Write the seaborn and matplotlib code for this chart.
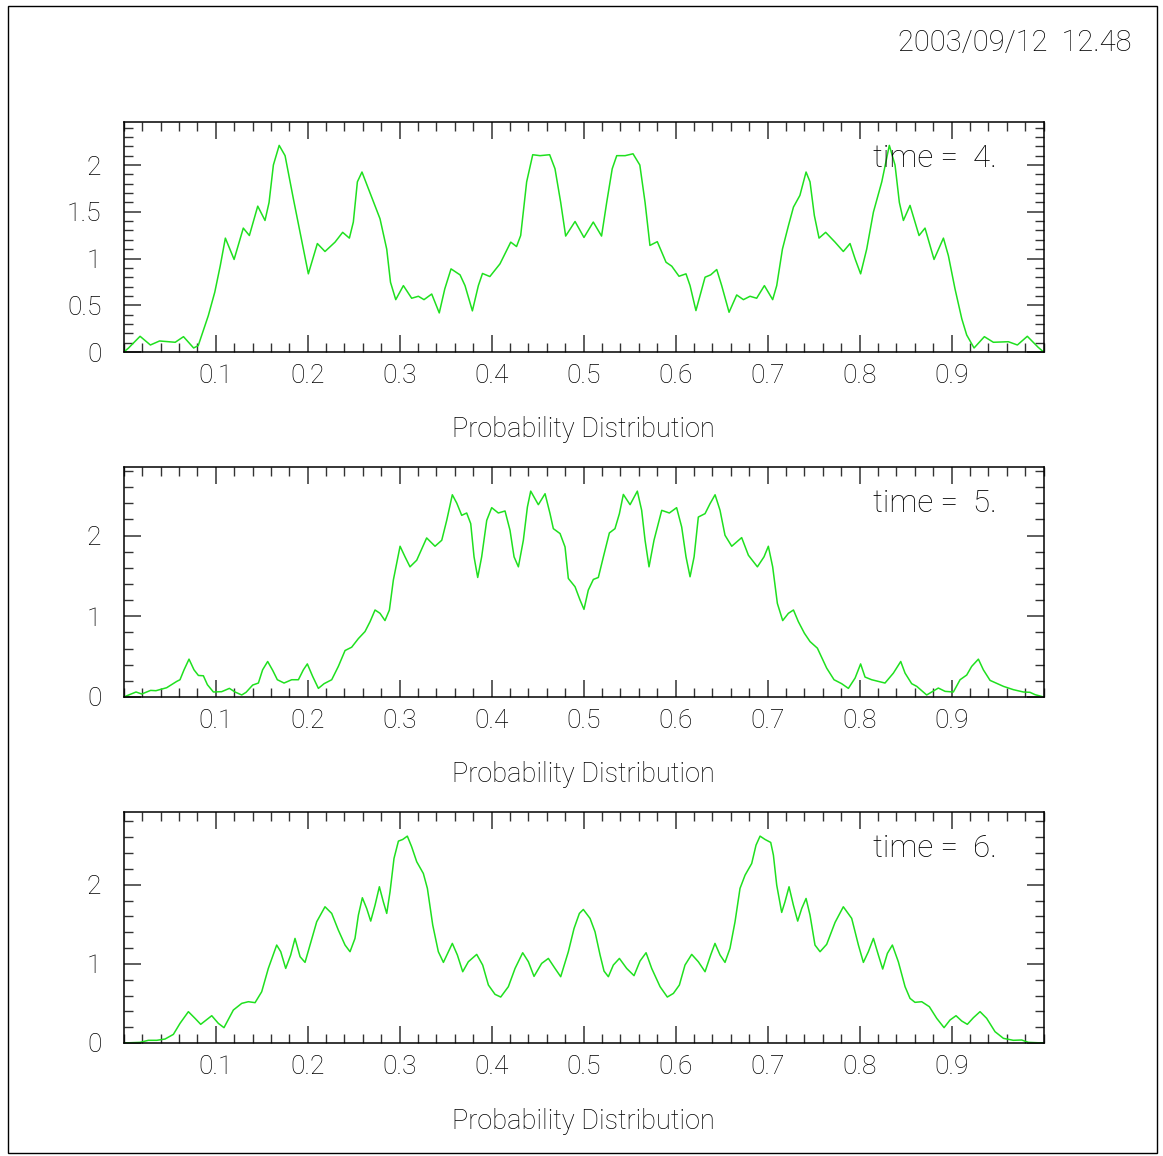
import matplotlib
matplotlib.use("Agg")
import matplotlib.pyplot as plt
import seaborn as sns
import pandas as pd
from matplotlib.ticker import FixedLocator, MultipleLocator
from matplotlib.patches import Rectangle

# ---------------- data ----------------
x_t4 = [0.000, 0.005, 0.0178, 0.029, 0.039, 0.056, 0.065, 0.076, 0.081, 0.092,
        0.099, 0.105, 0.1105, 0.120, 0.130, 0.1366, 0.1457, 0.1536, 0.158, 0.1627,
        0.169, 0.1754, 0.1844, 0.1917, 0.2007, 0.2105, 0.2188, 0.2297, 0.238, 0.2453,
        0.2496, 0.254, 0.259, 0.266, 0.273, 0.2786, 0.2859, 0.290, 0.2957, 0.304,
        0.313, 0.3203, 0.3264, 0.3348, 0.343, 0.349, 0.3558, 0.3656, 0.371, 0.379,
        0.3855, 0.390, 0.398, 0.409, 0.4207, 0.427, 0.4315, 0.438, 0.4446, 0.4525,
        0.463, 0.4688, 0.475, 0.4804, 0.4906, 0.5003, 0.5104, 0.5194, 0.525, 0.531,
        0.5359, 0.545, 0.5536, 0.561, 0.5667, 0.572, 0.580, 0.5895, 0.5957, 0.6036,
        0.6112, 0.6156, 0.622, 0.6319, 0.638, 0.6446, 0.650, 0.658, 0.6663, 0.6736,
        0.6808, 0.688, 0.6964, 0.7054, 0.7098, 0.716, 0.7225, 0.728, 0.735, 0.7417,
        0.746, 0.7507, 0.7558, 0.763, 0.7732, 0.7822, 0.7895, 0.795, 0.801, 0.8076,
        0.8149, 0.824, 0.8322, 0.8384, 0.8431, 0.8475, 0.8547, 0.8645, 0.871, 0.8808,
        0.891, 0.8964, 0.9036, 0.911, 0.9163, 0.9243, 0.9355, 0.9453, 0.9616, 0.9714,
        0.9822, 0.994, 1.0]
y_t4 = [0.00, 0.04, 0.168, 0.075, 0.118, 0.104, 0.164, 0.043, 0.068, 0.39,
        0.64, 0.925, 1.218, 0.99, 1.325, 1.246, 1.56, 1.407, 1.60, 2.0,
        2.21, 2.10, 1.64, 1.28, 0.836, 1.16, 1.075, 1.175, 1.28, 1.218,
        1.39, 1.82, 1.925, 1.746, 1.568, 1.425, 1.10, 0.746, 0.56, 0.71,
        0.575, 0.596, 0.56, 0.62, 0.418, 0.675, 0.889, 0.825, 0.71, 0.44,
        0.71, 0.84, 0.807, 0.943, 1.175, 1.128, 1.246, 1.82, 2.11, 2.10,
        2.11, 1.96, 1.60, 1.24, 1.396, 1.225, 1.39, 1.24, 1.60, 1.96,
        2.10, 2.10, 2.12, 2.0, 1.60, 1.14, 1.18, 0.96, 0.918, 0.81,
        0.836, 0.71, 0.443, 0.8, 0.825, 0.882, 0.71, 0.425, 0.61, 0.56,
        0.596, 0.575, 0.71, 0.56, 0.71, 1.10, 1.35, 1.55, 1.675, 1.925,
        1.82, 1.46, 1.218, 1.28, 1.175, 1.075, 1.16, 0.996, 0.836, 1.10,
        1.496, 1.82, 2.21, 2.0, 1.60, 1.407, 1.568, 1.246, 1.325, 0.99,
        1.218, 1.03, 0.675, 0.354, 0.182, 0.043, 0.164, 0.104, 0.11, 0.075,
        0.168, 0.05, 0.0]

x_t5 = [0.0, 0.0134, 0.0196, 0.0293, 0.035, 0.0467, 0.0576, 0.0612, 0.0656, 0.071,
        0.0764, 0.0812, 0.0866, 0.091, 0.0975, 0.1065, 0.1149, 0.121, 0.1283, 0.133,
        0.1402, 0.1464, 0.151, 0.1565, 0.162, 0.167, 0.1743, 0.1826, 0.1899, 0.1953,
        0.1996, 0.2054, 0.2116, 0.2178, 0.2261, 0.2333, 0.2406, 0.2478, 0.2551, 0.2623,
        0.2678, 0.2732, 0.2786, 0.284, 0.2888, 0.2931, 0.3004, 0.3058, 0.3112, 0.3185,
        0.3293, 0.3384, 0.3457, 0.3511, 0.3572, 0.362, 0.3674, 0.3728, 0.3772, 0.3808,
        0.3848, 0.3891, 0.3946, 0.40, 0.4072, 0.4145, 0.4199, 0.4243, 0.429, 0.4344,
        0.4388, 0.4424, 0.4507, 0.458, 0.4634, 0.467, 0.4743, 0.4797, 0.4833, 0.4906,
        0.496, 0.5003, 0.505, 0.5105, 0.5159, 0.5214, 0.5279, 0.534, 0.5388, 0.5431,
        0.5504, 0.5583, 0.563, 0.5667, 0.571, 0.5764, 0.5848, 0.5931, 0.601, 0.6065,
        0.6112, 0.6156, 0.62, 0.6246, 0.6319, 0.6373, 0.6428, 0.6482, 0.6536, 0.6609,
        0.6663, 0.6717, 0.679, 0.6888, 0.696, 0.7007, 0.7054, 0.7105, 0.7163, 0.7225,
        0.728, 0.7333, 0.7399, 0.746, 0.754, 0.7641, 0.7721, 0.7804, 0.7877, 0.795,
        0.801, 0.8058, 0.813, 0.8275, 0.8366, 0.8446, 0.8493, 0.8565, 0.862, 0.8728,
        0.8855, 0.8928, 0.9018, 0.9091, 0.9163, 0.9217, 0.929, 0.9344, 0.9417, 0.9562,
        0.967, 0.9779, 0.9851, 0.9906, 1.0]
y_t5 = [0.0, 0.062, 0.037, 0.082, 0.078, 0.115, 0.193, 0.214, 0.337, 0.469,
        0.337, 0.267, 0.263, 0.152, 0.062, 0.066, 0.107, 0.062, 0.025, 0.058,
        0.148, 0.173, 0.337, 0.44, 0.329, 0.214, 0.173, 0.214, 0.214, 0.337,
        0.41, 0.255, 0.107, 0.165, 0.214, 0.379, 0.576, 0.617, 0.724, 0.811,
        0.934, 1.078, 1.037, 0.947, 1.078, 1.449, 1.868, 1.737, 1.613, 1.695,
        1.971, 1.868, 1.942, 2.189, 2.506, 2.403, 2.251, 2.28, 2.148, 1.737,
        1.481, 1.737, 2.189, 2.346, 2.28, 2.305, 2.066, 1.737, 1.613, 1.942,
        2.354, 2.551, 2.383, 2.519, 2.272, 2.086, 2.025, 1.86, 1.469, 1.366,
        1.202, 1.086, 1.325, 1.457, 1.481, 1.737, 2.033, 2.086, 2.272, 2.51,
        2.383, 2.551, 2.313, 1.942, 1.613, 1.942, 2.313, 2.28, 2.346, 2.107,
        1.737, 1.49, 1.737, 2.23, 2.272, 2.395, 2.506, 2.313, 2.004, 1.868,
        1.922, 1.975, 1.757, 1.613, 1.737, 1.868, 1.613, 1.16, 0.947, 1.037,
        1.078, 0.934, 0.79, 0.687, 0.605, 0.358, 0.214, 0.165, 0.107, 0.235,
        0.41, 0.247, 0.214, 0.173, 0.296, 0.44, 0.296, 0.165, 0.132, 0.025,
        0.111, 0.07, 0.062, 0.214, 0.272, 0.379, 0.469, 0.337, 0.206, 0.132,
        0.091, 0.062, 0.058, 0.029, 0.0]

x_t6 = [0.0, 0.0178, 0.0268, 0.0359, 0.0449, 0.054, 0.0612, 0.0703, 0.0775, 0.0837,
        0.0957, 0.1029, 0.109, 0.1192, 0.1283, 0.1355, 0.1428, 0.15, 0.1572, 0.1663,
        0.1707, 0.1761, 0.1815, 0.1862, 0.1917, 0.1971, 0.2025, 0.2098, 0.2188, 0.2261,
        0.2333, 0.2406, 0.246, 0.2514, 0.2551, 0.2594, 0.2641, 0.2685, 0.2732, 0.2779,
        0.2822, 0.2859, 0.2895, 0.2938, 0.2986, 0.3033, 0.3083, 0.313, 0.3185, 0.3257,
        0.3301, 0.3359, 0.342, 0.3475, 0.3529, 0.3572, 0.3627, 0.3685, 0.3746, 0.3837,
        0.3902, 0.3964, 0.4036, 0.4098, 0.4181, 0.4254, 0.4337, 0.4399, 0.446, 0.4543,
        0.4616, 0.4688, 0.475, 0.4833, 0.4895, 0.4953, 0.4996, 0.5069, 0.5123, 0.5178,
        0.5221, 0.5268, 0.5322, 0.5388, 0.5467, 0.5547, 0.5612, 0.5678, 0.5739, 0.583,
        0.5909, 0.5975, 0.604, 0.6101, 0.6174, 0.6246, 0.6319, 0.638, 0.6427, 0.6482,
        0.6536, 0.659, 0.6645, 0.6699, 0.6754, 0.6826, 0.6873, 0.6917, 0.6971, 0.7033,
        0.7062, 0.7098, 0.7152, 0.7188, 0.7232, 0.7279, 0.7326, 0.737, 0.7417, 0.746,
        0.7514, 0.7569, 0.7641, 0.7732, 0.7822, 0.7913, 0.7986, 0.804, 0.8094, 0.8149,
        0.8203, 0.825, 0.8301, 0.8355, 0.842, 0.8493, 0.8547, 0.8601, 0.8674, 0.8757,
        0.8837, 0.8917, 0.8982, 0.9047, 0.9109, 0.917, 0.9236, 0.9308, 0.938, 0.9471,
        0.9562, 0.967, 0.9761, 0.9833, 1.0]
y_t6 = [0.0, 0.008, 0.034, 0.034, 0.05, 0.109, 0.248, 0.396, 0.312, 0.236,
        0.345, 0.248, 0.194, 0.417, 0.501, 0.522, 0.51, 0.648, 0.943, 1.238,
        1.154, 0.943, 1.112, 1.322, 1.091, 1.019, 1.238, 1.533, 1.722, 1.638,
        1.427, 1.238, 1.154, 1.322, 1.617, 1.836, 1.701, 1.541, 1.743, 1.975,
        1.785, 1.638, 1.912, 2.333, 2.552, 2.573, 2.615, 2.48, 2.291, 2.143,
        1.954, 1.491, 1.154, 1.019, 1.154, 1.259, 1.112, 0.901, 1.027, 1.12,
        0.985, 0.733, 0.615, 0.581, 0.712, 0.943, 1.141, 1.027, 0.842, 1.006,
        1.069, 0.943, 0.838, 1.154, 1.448, 1.638, 1.688, 1.575, 1.406, 1.112,
        0.909, 0.838, 0.985, 1.069, 0.943, 0.851, 1.036, 1.141, 0.943, 0.712,
        0.581, 0.627, 0.733, 0.985, 1.12, 1.027, 0.901, 1.112, 1.259, 1.112,
        1.019, 1.196, 1.533, 1.954, 2.122, 2.269, 2.501, 2.615, 2.573, 2.535,
        2.375, 1.996, 1.651, 1.785, 1.975, 1.743, 1.541, 1.701, 1.827, 1.617,
        1.238, 1.154, 1.247, 1.524, 1.722, 1.575, 1.238, 1.019, 1.154, 1.322,
        1.112, 0.935, 1.133, 1.238, 1.027, 0.712, 0.564, 0.514, 0.522, 0.459,
        0.312, 0.194, 0.291, 0.345, 0.278, 0.236, 0.32, 0.396, 0.312, 0.143,
        0.059, 0.034, 0.038, 0.008, 0.0]

panel_titles = ["time =  4.", "time =  5.", "time =  6."]
xlabel_text = "Probability Distribution"
date_text = "2003/09/12  12.48"
x_major = [0.1, 0.2, 0.3, 0.4, 0.5, 0.6, 0.7, 0.8, 0.9]
x_major_labels = ["0.1", "0.2", "0.3", "0.4", "0.5", "0.6", "0.7", "0.8", "0.9"]
y_major_t4 = [0, 0.5, 1, 1.5, 2]
y_major_t4_labels = ["0", "0.5", "1", "1.5", "2"]
y_major_t56 = [0, 1, 2]
y_major_t56_labels = ["0", "1", "2"]

# ---------------- styling ----------------
sns.set_theme(style="white")
plt.rcParams["font.family"] = ["Roboto", "DejaVu Sans"]
plt.rcParams["font.weight"] = "light"

W, H = 1163, 1156
fig = plt.figure(figsize=(W / 100, H / 100), dpi=100)
fig.patch.set_facecolor("white")

# outer frame
fig.add_artist(Rectangle((8 / W, 1 - 1153 / H), (1157 - 8) / W, (1153 - 6) / H,
                         transform=fig.transFigure, fill=False,
                         edgecolor="black", linewidth=1.0))

green = "#1fe01f"
txt = "#000000"
ax_left = 123.7
ax_right = 1043.7
panels = [
    (x_t4, y_t4, 122, 352, 2.46, y_major_t4, y_major_t4_labels, 0.1),
    (x_t5, y_t5, 467, 697, 2.85, y_major_t56, y_major_t56_labels, 0.2),
    (x_t6, y_t6, 812, 1043, 2.92, y_major_t56, y_major_t56_labels, 0.2),
]

for i, (xs, ys, top, bot, ymax, ymaj, ymajlab, yminor) in enumerate(panels):
    ax = fig.add_axes([ax_left / W, 1 - bot / H, (ax_right - ax_left) / W, (bot - top) / H])
    df = pd.DataFrame({"x": xs, "y": ys})
    sns.lineplot(data=df, x="x", y="y", ax=ax, color=green, linewidth=1.1,
                 sort=False, estimator=None)
    ax.set_xlim(0, 1)
    ax.set_ylim(0, ymax)
    ax.xaxis.set_major_locator(FixedLocator(x_major))
    ax.set_xticklabels(x_major_labels)
    ax.xaxis.set_minor_locator(MultipleLocator(0.02))
    ax.yaxis.set_major_locator(FixedLocator(ymaj))
    ax.set_yticklabels(ymajlab)
    ax.yaxis.set_minor_locator(MultipleLocator(yminor))
    ax.set_xlabel("")
    ax.set_ylabel("")
    for s in ax.spines.values():
        s.set_visible(True)
        s.set_color("black")
        s.set_linewidth(1.1)
    ax.tick_params(axis="both", which="both", direction="in", top=True, right=True,
                   bottom=True, left=True, colors="#333333", labelcolor=txt)
    ax.tick_params(axis="both", which="major", length=12.5, width=1.1, labelsize=19)
    ax.tick_params(axis="both", which="minor", length=6.5, width=1.0)
    ax.tick_params(axis="x", which="major", pad=8.5)
    ax.tick_params(axis="y", which="major", pad=16)
    ax.text(0.5, -0.339, xlabel_text, transform=ax.transAxes, ha="center", va="center",
            fontsize=19.5, color=txt)
    ax.text(0.8145, 0.843, panel_titles[i], transform=ax.transAxes, ha="left", va="center",
            fontsize=22.5, color=txt)

fig.text(1131 / W, 1 - 43 / H, date_text, ha="right", va="center", fontsize=21,
         color=txt)

fig.savefig("out.png", dpi=100, facecolor="white")
